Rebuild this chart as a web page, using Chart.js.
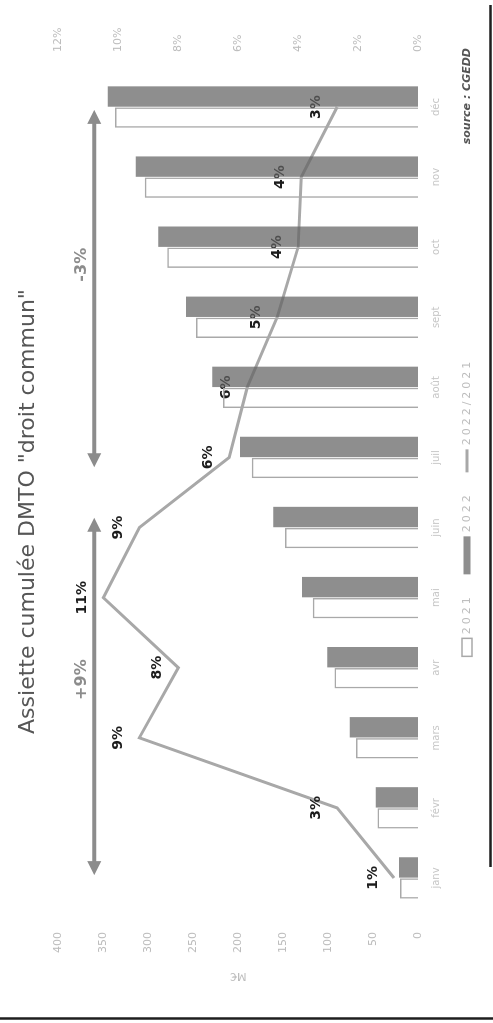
<!DOCTYPE html>
<html lang="fr">
<head>
<meta charset="utf-8">
<title>Assiette cumulée DMTO "droit commun"</title>
<script src="https://cdn.jsdelivr.net/npm/chart.js@4.4.1/dist/chart.umd.min.js"></script>
<style>
  html, body { margin: 0; padding: 0; background: #fff; overflow: hidden; }
  body { width: 493px; height: 1023px; position: relative; }
  /* the landscape chart is shown turned a quarter turn to the left */
  #cadre {
    position: absolute; left: 0; top: 0;
    width: 1023px; height: 493px;
    transform-origin: 0 0;
    transform: translateY(1023px) rotate(-90deg);
  }
  canvas { display: block; }
</style>
</head>
<body>
<div id="cadre"><canvas id="graphique" width="1023" height="493"></canvas></div>
<script>
// Assiette cumulée DMTO "droit commun", en M€
const mois = ['janv', 'févr', 'mars', 'avr', 'mai', 'juin', 'juil', 'août', 'sept', 'oct', 'nov', 'déc'];
const assiette2021 = [20, 45, 69, 93, 117, 148, 185, 217, 247, 279, 304, 337];
const assiette2022 = [21, 47, 76, 101, 129, 161, 198, 229, 258, 289, 314, 345];
// évolution cumulée 2022/2021, en %
const evolution = [0.8, 2.7, 9.3, 8.0, 10.5, 9.3, 6.3, 5.7, 4.7, 4.0, 3.9, 2.7];

const graduationsMontant = [0, 50, 100, 150, 200, 250, 300, 350, 400];
const graduationsPourcent = [0, 2, 4, 6, 8, 10, 12];

// flèches de période (positions en rang de mois)
const fleches = [
  { de: 0.04, a: 5.14, texte: '+9%', texteA: 2.83 },
  { de: 5.86, a: 10.96, texte: '-3%', texteA: 8.75 }
];

const POLICE = 'DejaVu Sans';
const GRIS_TEXTE = '#bdbdbd';
const COUL_2021 = '#a9a9a9';
const COUL_2022 = 'rgba(98,98,98,0.72)';
const COUL_EVOL = '#a8a8a8';
const COUL_FLECHE = '#8c8c8c';

Chart.defaults.font.family = POLICE;

// étiquettes de l'évolution, sous les barres
const etiquettesEvolution = {
  id: 'etiquettesEvolution',
  afterDatasetDraw(chart, args) {
    if (args.meta.type !== 'line') return;
    const ctx = chart.ctx;
    ctx.save();
    ctx.font = 'bold 14px ' + POLICE;
    ctx.fillStyle = '#1c1c1c';
    ctx.textAlign = 'center';
    ctx.textBaseline = 'middle';
    args.meta.data.forEach((pt, i) => {
      const v = chart.data.datasets[args.index].data[i];
      ctx.fillText(Math.round(v) + '%', pt.x, pt.y - 21);
    });
    ctx.restore();
  }
};

// flèches doubles et leur libellé
const flechesPeriodes = {
  id: 'flechesPeriodes',
  afterDatasetsDraw(chart) {
    const ctx = chart.ctx;
    const x = chart.scales.x, y = chart.scales.y;
    const yy = y.getPixelForValue(360);
    ctx.save();
    ctx.strokeStyle = COUL_FLECHE;
    ctx.fillStyle = COUL_FLECHE;
    ctx.lineWidth = 4;
    fleches.forEach(f => {
      const x1 = x.getPixelForValue(f.de);
      const x2 = x.getPixelForValue(f.a);
      const L = 14, H = 7;
      ctx.beginPath();
      ctx.moveTo(x1 + L - 2, yy);
      ctx.lineTo(x2 - L + 2, yy);
      ctx.stroke();
      ctx.beginPath();
      ctx.moveTo(x1, yy); ctx.lineTo(x1 + L, yy - H); ctx.lineTo(x1 + L, yy + H); ctx.closePath();
      ctx.fill();
      ctx.beginPath();
      ctx.moveTo(x2, yy); ctx.lineTo(x2 - L, yy - H); ctx.lineTo(x2 - L, yy + H); ctx.closePath();
      ctx.fill();
      ctx.font = 'bold 16px ' + POLICE;
      ctx.textAlign = 'center';
      ctx.textBaseline = 'middle';
      ctx.fillText(f.texte, x.getPixelForValue(f.texteA), yy - 13);
    });
    ctx.restore();
  }
};

// légende, source et filets du cadre
const habillage = {
  id: 'habillage',
  afterDraw(chart) {
    const ctx = chart.ctx;
    const ds = chart.data.datasets;
    const yl = 467;
    ctx.save();
    ctx.font = '11px ' + POLICE;
    ctx.letterSpacing = '3px';
    ctx.textBaseline = 'middle';
    ctx.textAlign = 'left';
    const items = [
      { type: 'boite', w: 18, h: 10, texte: ds[0].label },
      { type: 'plein', w: 38, h: 7, texte: ds[1].label },
      { type: 'trait', w: 23, h: 3, texte: ds[2].label }
    ];
    const gapSym = 4, gapItem = 20;
    let total = 0;
    items.forEach((it, i) => {
      it.tw = ctx.measureText(it.texte).width;
      total += it.w + gapSym + it.tw + (i < items.length - 1 ? gapItem : 0);
    });
    let cx = chart.width / 2 - total / 2 + 4;
    items.forEach(it => {
      if (it.type === 'boite') {
        ctx.strokeStyle = COUL_2021; ctx.lineWidth = 1.5;
        ctx.strokeRect(cx, yl - it.h / 2, it.w, it.h);
      } else if (it.type === 'plein') {
        ctx.fillStyle = COUL_2022;
        ctx.fillRect(cx, yl - it.h / 2, it.w, it.h);
      } else {
        ctx.strokeStyle = COUL_EVOL; ctx.lineWidth = 3;
        ctx.beginPath(); ctx.moveTo(cx, yl); ctx.lineTo(cx + it.w, yl); ctx.stroke();
      }
      cx += it.w + gapSym;
      ctx.fillStyle = GRIS_TEXTE;
      ctx.fillText(it.texte, cx, yl);
      cx += it.tw + gapItem;
    });
    ctx.letterSpacing = '0px';
    ctx.font = 'italic bold 11px ' + POLICE;
    ctx.fillStyle = '#555';
    ctx.textAlign = 'right';
    ctx.fillText('source : CGEDD', 975, yl);

    ctx.strokeStyle = '#1e1e1e';
    ctx.lineWidth = 2.5;
    ctx.beginPath(); ctx.moveTo(156, 490.5); ctx.lineTo(1018, 490.5); ctx.stroke();
    ctx.beginPath(); ctx.moveTo(4.5, 0); ctx.lineTo(4.5, 493); ctx.stroke();
    ctx.restore();
  }
};

new Chart(document.getElementById('graphique'), {
  data: {
    labels: mois,
    datasets: [
      {
        type: 'bar', label: '2021', data: assiette2021, yAxisID: 'y', order: 1,
        backgroundColor: 'rgba(255,255,255,0)', borderColor: COUL_2021, borderWidth: 1.5,
        categoryPercentage: 0.6, barPercentage: 0.97
      },
      {
        type: 'bar', label: '2022', data: assiette2022, yAxisID: 'y', order: 2,
        backgroundColor: COUL_2022, borderWidth: 0,
        categoryPercentage: 0.6, barPercentage: 0.97
      },
      {
        type: 'line', label: '2022/2021', data: evolution, yAxisID: 'y1', order: 3,
        borderColor: COUL_EVOL, borderWidth: 3, pointRadius: 0, tension: 0, fill: false
      }
    ]
  },
  options: {
    responsive: false,
    animation: false,
    devicePixelRatio: 1,
    layout: { padding: { left: 0, right: 0, top: 0, bottom: 45 } },
    plugins: {
      legend: { display: false },
      tooltip: { enabled: false },
      title: {
        display: true,
        text: 'Assiette cumulée DMTO "droit commun"',
        color: '#565656',
        font: { size: 22, weight: 'normal', family: POLICE },
        padding: { top: 15, bottom: 17 }
      }
    },
    scales: {
      x: {
        type: 'category',
        grid: { display: false, drawTicks: false },
        border: { display: false },
        ticks: { color: '#c6c6c6', font: { size: 10 }, padding: 12, maxRotation: 0, autoSkip: false },
        afterFit(s) { s.height = 30; }
      },
      y: {
        position: 'left', min: 0, max: 400,
        grid: { display: false, drawTicks: false },
        border: { display: false },
        afterBuildTicks(s) { s.ticks = graduationsMontant.map(v => ({ value: v })); },
        ticks: { color: GRIS_TEXTE, font: { size: 11 }, padding: 19 },
        title: { display: true, text: 'M€', color: GRIS_TEXTE, font: { size: 11 }, padding: { top: 41, bottom: 0 } },
        afterFit(s) { s.width = 110; }
      },
      y1: {
        position: 'right', min: 0, max: 12,
        grid: { display: false, drawTicks: false },
        border: { display: false },
        afterBuildTicks(s) { s.ticks = graduationsPourcent.map(v => ({ value: v })); },
        ticks: { color: GRIS_TEXTE, font: { size: 11 }, padding: 20, callback: v => v + '%' },
        afterFit(s) { s.width = 72; }
      }
    }
  },
  plugins: [etiquettesEvolution, flechesPeriodes, habillage]
});
</script>
</body>
</html>
